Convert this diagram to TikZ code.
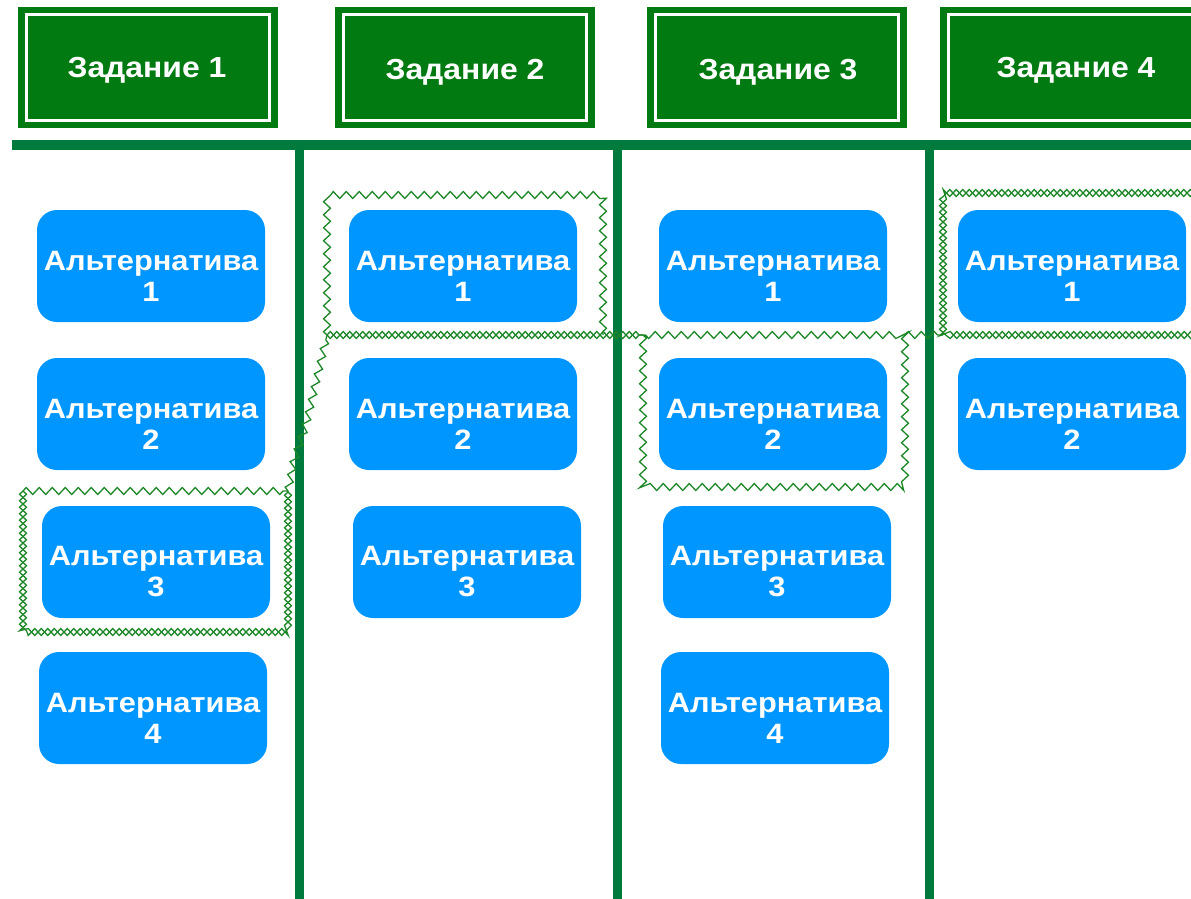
\documentclass[tikz,border=0pt]{standalone}
\usepackage{fontspec}
\setmainfont{Liberation Sans}[FakeStretch=1.1]
\usetikzlibrary{decorations.pathmorphing}

\definecolor{taskgreen}{RGB}{2,122,18}
\definecolor{railgreen}{RGB}{0,122,61}
\definecolor{altblue}{RGB}{0,150,255}
\definecolor{zzgreen}{RGB}{30,135,40}

\tikzset{
  taskbox/.style={fill=taskgreen, minimum width=260pt, minimum height=121pt,
    inner sep=0pt},
  tasktext/.style={text=white, inner sep=0pt,
    font=\fontsize{29}{34}\selectfont\bfseries},
  taskframe/.style={draw=white, line width=3pt},
  altbox/.style={fill=altblue, rounded corners=20pt, minimum width=228pt,
    minimum height=112pt, inner sep=0pt},
  alttext/.style={text=white, align=center, inner sep=0pt,
    font=\fontsize{28}{31}\selectfont\bfseries},
  rail/.style={draw=railgreen, line width=10pt},
  zzline/.style={draw=zzgreen, line width=1.3pt, decorate,
    decoration={zigzag, segment length=13pt, amplitude=3.5pt}},
  zz/.style={zzline},
  zzx/.style={preaction={zzline}, postaction={zzline, decoration={mirror}}},
}

\begin{document}
\begin{tikzpicture}[x=1pt, y=-1pt]
\useasboundingbox (0,0) rectangle (1191,899);

% task headers
\foreach \i/\x/\w/\tx/\ty in {1/148/260/147/70, 2/465/260/465/72,
                               3/777/260/778/72, 4/1076/272/1076/70}{
  \node[taskbox, minimum width=\w pt] (t\i) at (\x,67.5) {};
  \draw[taskframe] ([shift={(9pt,-8pt)}]t\i.north west)
    rectangle ([shift={(-9pt,8pt)}]t\i.south east);
  \node[tasktext] (n\i) at (\tx,\ty) {Задание \i};
}

% rails: top bar and column separators
\coordinate (hl) at (12,145);
\coordinate (hr) at (1191,145);
\draw[rail] (hl) -- (hr);
\foreach \i/\x in {1/299, 2/617, 3/929}{
  \coordinate (v\i t) at (\x,145);
  \coordinate (v\i b) at (\x,899);
  \draw[rail, line width=9pt] (v\i t) -- (v\i b);
}

% alternatives
\foreach \c/\r/\x/\y in {1/1/151/266, 1/2/151/414, 1/3/156/562, 1/4/153/708,
                          2/1/463/266, 2/2/463/414, 2/3/467/562,
                          3/1/773/266, 3/2/773/414, 3/3/777/562, 3/4/775/708,
                          4/1/1072/266, 4/2/1072/414}{
  \node[altbox] (a\c\r) at (\x,\y) {};
  \node[alttext] (l\c\r) at (\x,\y+10) {Альтернатива\\\r};
}

% chosen path outline
\coordinate (s1nw) at (23,491);
\coordinate (s1ne) at (288,491);
\coordinate (s1sw) at (23,632);
\coordinate (s1se) at (288,632);
\coordinate (k1) at (294,460);
\coordinate (k2) at (306,425);
\coordinate (s2nw) at (327,195);
\coordinate (s2ne) at (603,195);
\coordinate (s2sw) at (327,335);
\coordinate (s2se) at (603,335);
\coordinate (s3nw) at (643,335);
\coordinate (s3ne) at (905,335);
\coordinate (s3sw) at (643,487);
\coordinate (s3se) at (905,487);
\coordinate (s4nw) at (943,193);
\coordinate (s4ne) at (1200,193);
\coordinate (s4sw) at (943,335);
\coordinate (s4se) at (1200,335);

\draw[zz] (s1nw) -- (s1ne);
\path[zzx] (s1nw) -- (s1sw) -- (s1se) -- (s1ne);
\draw[zz] (s1ne) -- (k1) -- (k2) -- (s2sw);
\draw[zz] (s2sw) -- (s2nw) -- (s2ne) -- (s2se);
\path[zzx] (s2sw) -- (s2se) -- (s3nw);
\draw[zz] (s3nw) rectangle (s3se);
\draw[zz] (s3ne) -- (s4sw);
\path[zzx] (s4ne) -- (s4nw) -- (s4sw) -- (s4se);
\end{tikzpicture}
\end{document}
